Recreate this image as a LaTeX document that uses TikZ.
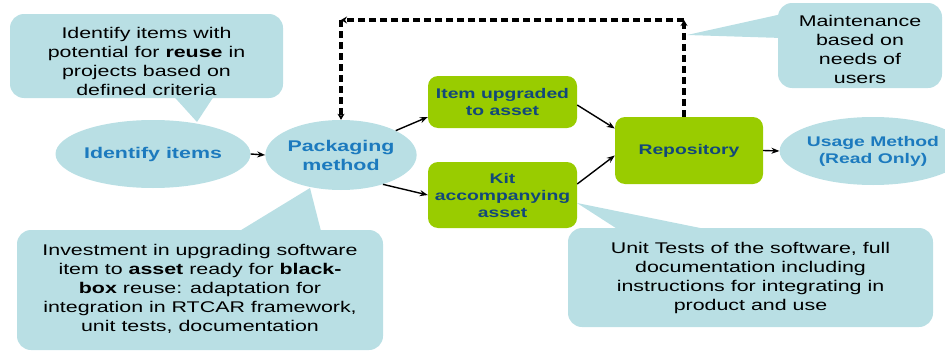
\documentclass[tikz,border=0pt]{standalone}
\usepackage{fontspec}
\setmainfont{Liberation Sans}[FakeStretch=1.38]
\usetikzlibrary{arrows.meta,shapes.geometric}
\definecolor{callout}{RGB}{185,223,228}
\definecolor{lime}{RGB}{153,204,0}
\definecolor{boxtext}{RGB}{18,72,122}
\definecolor{elltext}{RGB}{28,122,190}
\begin{document}
\begin{tikzpicture}[x=1pt,y=-1pt,
  note/.style={fill=callout, rounded corners=14pt, inner sep=0pt},
  notetext/.style={align=center, font=\fontsize{15.5}{19}\selectfont, inner sep=0pt},
  tail/.style={fill=callout},
  oval/.style={ellipse, fill=callout, inner sep=0pt, text=elltext, font=\bfseries\fontsize{15.5}{19}\selectfont, align=center, minimum width=146pt, minimum height=68pt},
  gbox/.style={fill=lime, rounded corners=10pt, text=boxtext, font=\bfseries\fontsize{14}{17}\selectfont, align=center, inner sep=0pt, minimum width=149pt},
  arr/.style={line width=1.4pt, -{Stealth[length=8pt,width=6pt]}},
  darr/.style={line width=3.2pt, dash pattern=on 7pt off 4pt, -{Stealth[length=6pt,width=7pt]}}
]
\useasboundingbox (0,0) rectangle (945,356);
% tails
\fill[tail] (168,90) -- (218,90) -- (197,122) -- cycle;
\fill[tail] (233,235) -- (322,235) -- (310,188) -- cycle;
\fill[tail] (782,14) -- (782,38) -- (687,35) -- cycle;
\fill[tail] (622,232) -- (720,232) -- (577,203) -- cycle;
% callouts
\node[note, minimum width=273pt, minimum height=84pt] (c1) at (146.5,56) {};
\node[notetext] (c1t) at (146.5,61) {Identify items with\\potential for \textbf{reuse} in\\projects based on\\defined criteria};
\node[note, minimum width=366pt, minimum height=120pt] (c2) at (200,290) {};
\node[notetext] (c2t) at (200,289) {Investment in upgrading software\\item to \textbf{asset} ready for \textbf{black-}\\\textbf{box} reuse: adaptation for\\integration in RTCAR framework,\\unit tests, documentation};
\node[note, minimum width=164pt, minimum height=85pt] (c3) at (860,45.5) {};
\node[notetext] (c3t) at (860,49.5) {Maintenance\\based on\\needs of\\users};
\node[note, minimum width=365pt, minimum height=99pt] (c4) at (750.5,277.5) {};
\node[notetext] (c4t) at (750.5,278) {Unit Tests of the software, full\\documentation including\\instructions for integrating in\\product and use};
% ellipses
\node[oval] (ident) at (153,154) {Identify items};
\node[oval, minimum height=70pt] (pack) at (341,155) {Packaging\\method};
\node[oval, font=\bfseries\fontsize{14}{17}\selectfont] (usage) at (873,151) {Usage Method\\(Read Only)};
% green boxes
\node[gbox, minimum height=52pt] (item) at (502.5,102) {Item upgraded\\to asset};
\node[gbox, minimum height=66pt] (kit) at (502.5,195) {Kit\\accompanying\\asset};
\node[gbox, minimum width=148pt, minimum height=67pt] (repo) at (689,150.5) {Repository};
% arrows
\draw[arr] (ident.east) -- (pack.west);
\draw[arr] (pack.24) -- ([yshift=-15pt]item.west);
\draw[arr] (pack.-35) -- (kit.west);
\draw[arr] ([yshift=-3pt]item.east) -- ([yshift=22pt]repo.west);
\draw[arr] ([yshift=11pt]kit.east) -- ([yshift=-5pt]repo.west);
\draw[arr] (repo.east) -- (usage.west);
% dashed feedback
\coordinate (dtr) at (684,20);
\coordinate (dtl) at (341,20);
\draw[darr] (repo.north -| dtr) -- (dtr);
\draw[darr] (dtr) -- (dtl);
\draw[darr] (dtl) -- (pack.north);
\end{tikzpicture}
\end{document}
